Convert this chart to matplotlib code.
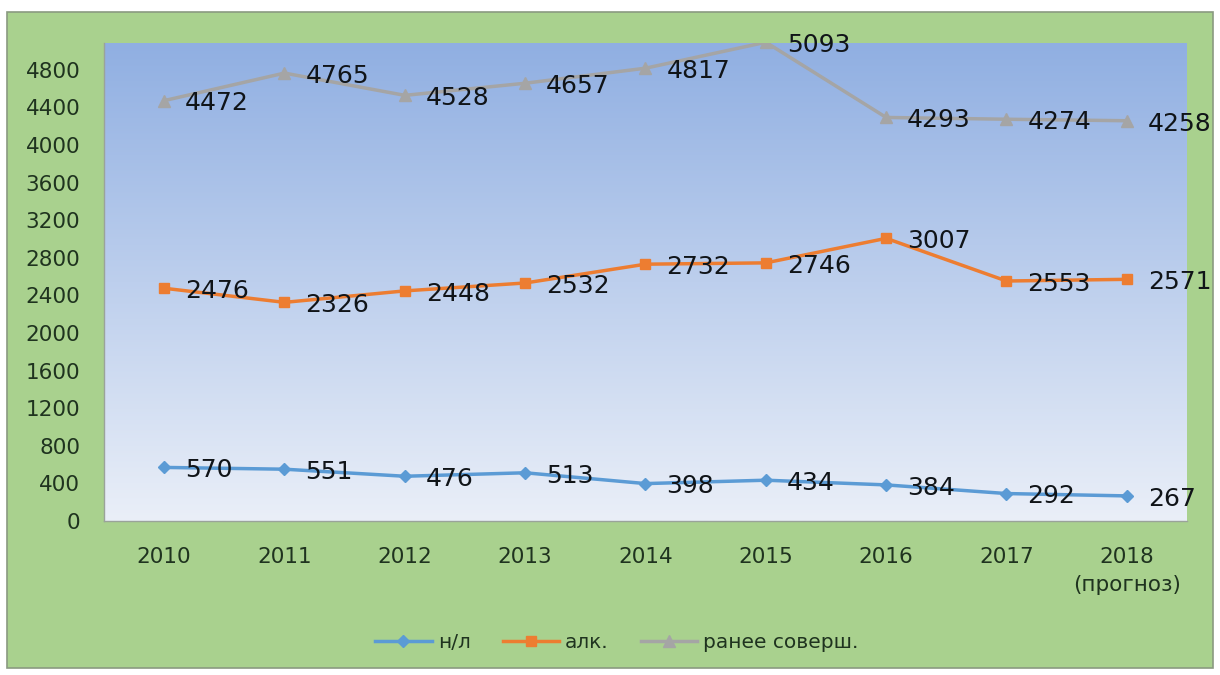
import matplotlib.pyplot as plt
import numpy as np

plt.rcParams['font.family'] = ['DejaVu Sans']

years = ['2010', '2011', '2012', '2013', '2014', '2015', '2016', '2017', '2018\n(прогноз)']
nl = [570, 551, 476, 513, 398, 434, 384, 292, 267]
alk = [2476, 2326, 2448, 2532, 2732, 2746, 3007, 2553, 2571]
ranee = [4472, 4765, 4528, 4657, 4817, 5093, 4293, 4274, 4258]

series = [
    ('н/л', nl, '#5b9bd5', 'D', 6),
    ('алк.', alk, '#ed7d31', 's', 7),
    ('ранее соверш.', ranee, '#a5a5a5', '^', 8),
]

fig = plt.figure(figsize=(12.2, 6.75), dpi=100)
fig.patch.set_facecolor('white')

# зелёная подложка
panel = plt.Rectangle((7 / 1220, 1 - 668 / 675), 1206 / 1220, 656 / 675,
                      transform=fig.transFigure, facecolor='#a9d18e',
                      edgecolor='#8a9a80', linewidth=1.2, zorder=-5)
fig.patches.append(panel)

ax = fig.add_axes([104 / 1220, 1 - 521 / 675, 1083 / 1220, 478 / 675])
ax.set_facecolor('none')
ax.set_zorder(2)

x = np.arange(len(years))
ymax = 5085
ax.set_xlim(-0.5, len(years) - 0.5)
ax.set_ylim(0, ymax)

# градиентный фон области построения
top = np.array([0x90, 0xaf, 0xe2]) / 255
bottom = np.array([0xea, 0xef, 0xf8]) / 255
t = np.linspace(0, 1, 256)[:, None]
grad = (top * (1 - t) + bottom * t)[:, None, :]
ax.imshow(grad, extent=(-0.5, len(years) - 0.5, 0, ymax), aspect='auto', zorder=0)

for name, vals, color, marker, ms in series:
    ax.plot(x, vals, color=color, linewidth=2.5, marker=marker, markersize=ms,
            label=name, zorder=3)
    for xi, v in zip(x, vals):
        ax.annotate(str(v), (xi, v), xytext=(15, -2), textcoords='offset points',
                    ha='left', va='center', fontsize=18, color='#101418', zorder=4,
                    annotation_clip=False)

ax.set_yticks(np.arange(0, 4801, 400))
ax.set_xticks(x)
ax.set_xticklabels(years, linespacing=1.5)
ax.tick_params(axis='both', length=0, labelsize=15.5, colors='#1f331f')
ax.tick_params(axis='x', pad=19)
ax.tick_params(axis='y', pad=17)

for s in ['top', 'right']:
    ax.spines[s].set_visible(False)
for s in ['left', 'bottom']:
    ax.spines[s].set_color('#9aa39a')
    ax.spines[s].set_linewidth(1)

leg = fig.legend(loc='center', bbox_to_anchor=(617 / 1220, 1 - 643 / 675), ncol=3,
                 frameon=False, fontsize=14.5, handlelength=2.8, columnspacing=1.6,
                 handletextpad=0.3)
for txt in leg.get_texts():
    txt.set_color('#1f331f')

plt.savefig('out.png', dpi=100, facecolor=fig.get_facecolor())
